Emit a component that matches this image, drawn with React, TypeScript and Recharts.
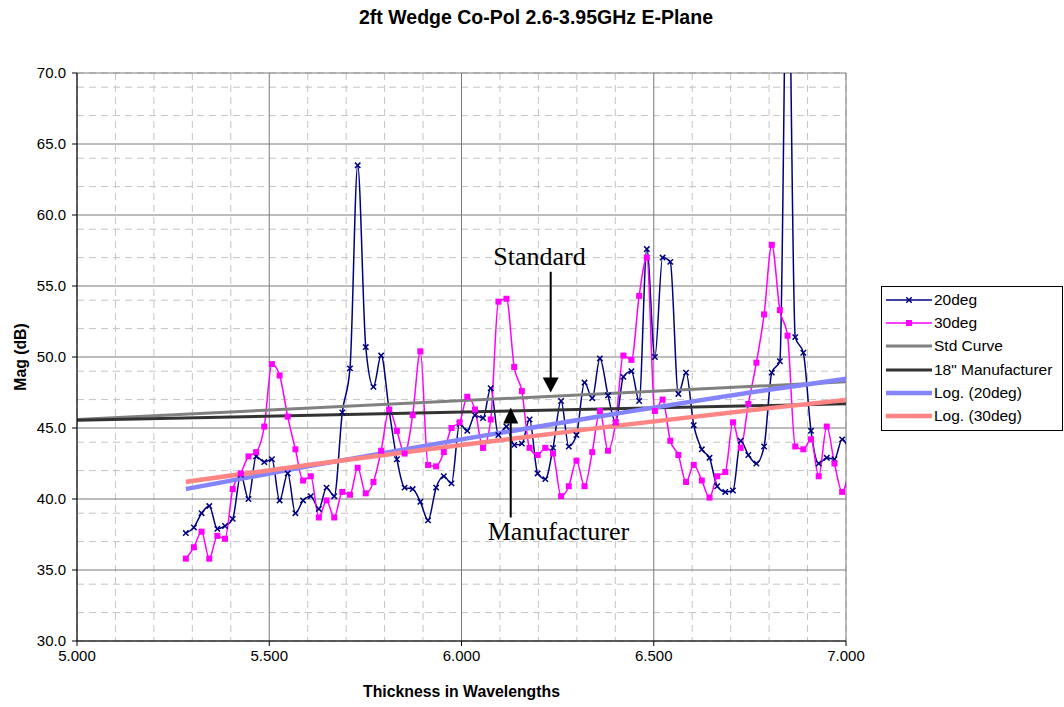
import type { JSX } from "react";
import {
  CartesianGrid,
  ComposedChart,
  Legend,
  Line,
  ReferenceDot,
  ReferenceLine,
  XAxis,
  YAxis,
} from "recharts";

// thickness in wavelengths for each measured frequency (2.60 .. 3.45 GHz)
const thickness = [
  5.283, 5.304, 5.324, 5.344, 5.365, 5.385, 5.405, 5.426, 5.446, 5.466,
  5.487, 5.507, 5.527, 5.548, 5.568, 5.588, 5.608, 5.629, 5.649, 5.669,
  5.69, 5.71, 5.73, 5.751, 5.771, 5.791, 5.812, 5.832, 5.852, 5.873,
  5.893, 5.913, 5.934, 5.954, 5.974, 5.995, 6.015, 6.035, 6.056, 6.076,
  6.096, 6.117, 6.137, 6.157, 6.177, 6.198, 6.218, 6.238, 6.259, 6.279,
  6.299, 6.32, 6.34, 6.36, 6.381, 6.401, 6.421, 6.442, 6.462, 6.482,
  6.503, 6.523, 6.543, 6.564, 6.584, 6.604, 6.625, 6.645, 6.665, 6.686,
  6.706, 6.726, 6.746, 6.767, 6.787, 6.807, 6.828, 6.848, 6.868, 6.889,
  6.909, 6.929, 6.95, 6.97, 6.99, 7.011,
];

const deg20 = [
  37.6, 38.0, 39.0, 39.5, 37.9, 38.1, 38.6, 41.7, 40.0, 43.0,
  42.6, 42.8, 39.9, 41.8, 39.0, 39.9, 40.2, 39.3, 40.8, 40.2,
  46.1, 49.2, 63.5, 50.7, 47.9, 50.1, 46.2, 42.8, 40.8, 40.7,
  39.8, 38.5, 40.8, 41.6, 41.1, 45.3, 44.8, 45.9, 45.7, 47.8,
  44.5, 45.1, 43.8, 43.9, 45.6, 41.8, 41.4, 43.6, 46.9, 43.7,
  44.5, 48.2, 47.1, 49.9, 47.3, 45.4, 48.6, 49.0, 46.9, 57.6,
  50.0, 57.0, 56.7, 47.4, 48.9, 45.2, 43.5, 42.9, 40.9, 40.5,
  40.6, 44.1, 43.1, 42.5, 43.7, 48.9, 49.7, 82.0, 51.4, 50.3,
  44.8, 42.5, 42.9, 42.8, 44.2, 43.2,
];

const deg30 = [
  35.8, 36.6, 37.7, 35.8, 37.4, 37.2, 40.7, 41.8, 43.0, 43.3,
  45.1, 49.5, 48.7, 45.8, 43.5, 41.3, 41.6, 38.7, 39.9, 38.7,
  40.5, 40.3, 42.2, 40.4, 41.2, 43.4, 46.3, 44.8, 43.2, 45.9,
  50.4, 42.4, 42.3, 43.3, 45.0, 45.4, 47.2, 46.3, 43.6, 45.6,
  53.9, 54.1, 49.3, 47.6, 43.6, 43.1, 43.6, 43.2, 40.2, 40.9,
  42.7, 40.9, 43.3, 46.2, 43.4, 45.4, 50.1, 49.8, 54.3, 57.0,
  46.2, 47.0, 44.1, 43.1, 41.2, 42.4, 41.3, 40.1, 41.6, 41.9,
  45.4, 43.6, 46.7, 49.6, 53.0, 57.9, 53.3, 51.5, 43.7, 43.5,
  44.2, 41.6, 45.1, 42.5, 40.5, 42.5,
];

const stdX = [5.0, 7.0];
const stdY = [45.6, 48.25];
const manufX = [5.0, 7.0];
const manufY = [45.55, 46.7];

const trendX = [5.283, 5.6, 6.0, 6.4, 6.8, 7.011];
const log20Y = [40.7, 42.3, 44.2, 46.0, 47.7, 48.5];
const log30Y = [41.2, 42.4, 43.8, 45.15, 46.4, 47.0];

const xTicks = [5.0, 5.5, 6.0, 6.5, 7.0];
const yTicks = [30, 35, 40, 45, 50, 55, 60, 65, 70];
const xMinor = [
  5.1, 5.2, 5.3, 5.4, 5.6, 5.7, 5.8, 5.9, 6.1, 6.2, 6.3, 6.4, 6.6, 6.7, 6.8, 6.9,
];
const yMinor = [
  31, 32, 33, 34, 36, 37, 38, 39, 41, 42, 43, 44, 46, 47, 48, 49, 51, 52, 53, 54,
  56, 57, 58, 59, 61, 62, 63, 64, 66, 67, 68, 69,
];

const seriesOrder = ["20deg", "30deg", "Std Curve", '18" Manufacturer', "Log. (20deg)", "Log. (30deg)"];

const rows = thickness.map((x, i) => ({ x, a20: deg20[i], a30: deg30[i] }));
const pairs = (xs: number[], ys: number[]) => xs.map((x, i) => ({ x, y: ys[i] }));

const SANS = '"Liberation Sans", Arial, sans-serif';
const SERIF = '"Liberation Serif", "Times New Roman", serif';

const NAVY = "#000080";
const MAGENTA = "#ff00ff";

function XMark(props: any): JSX.Element | null {
  const { cx, cy } = props;
  if (cx == null || cy == null) return null;
  const s = 2.7;
  return (
    <path
      d={`M${cx - s},${cy - s}L${cx + s},${cy + s}M${cx - s},${cy + s}L${cx + s},${cy - s}`}
      stroke={NAVY}
      strokeWidth={1.5}
      fill="none"
    />
  );
}

function SquareMark(props: any): JSX.Element | null {
  const { cx, cy } = props;
  if (cx == null || cy == null) return null;
  return <rect x={cx - 3} y={cy - 3} width={6} height={6} fill={MAGENTA} />;
}

const legendLook: Record<string, { stroke: string; width: number; mark?: "x" | "sq" }> = {
  "20deg": { stroke: NAVY, width: 1.5, mark: "x" },
  "30deg": { stroke: MAGENTA, width: 1.5, mark: "sq" },
  "Std Curve": { stroke: "#808080", width: 3 },
  '18" Manufacturer': { stroke: "#333333", width: 3 },
  "Log. (20deg)": { stroke: "#8484ff", width: 4.5 },
  "Log. (30deg)": { stroke: "#ff8484", width: 4.5 },
};

function LegendBox(props: any): JSX.Element {
  const payload: any[] = [...(props.payload ?? [])].sort(
    (a, b) => seriesOrder.indexOf(a.value) - seriesOrder.indexOf(b.value),
  );
  return (
    <div
      style={{
        border: "1px solid #000",
        background: "#fff",
        padding: "1px 0 2px 0",
        fontFamily: SANS,
        fontSize: 15.5,
        color: "#000",
      }}
    >
      {payload.map((e) => {
        const look = legendLook[e.value] ?? { stroke: e.color, width: 2 };
        return (
          <div key={e.value} style={{ display: "flex", alignItems: "center", height: 23.3 }}>
            <svg width={52} height={14} style={{ flex: "none" }}>
              <line x1={4} x2={50} y1={7} y2={7} stroke={look.stroke} strokeWidth={look.width} />
              {look.mark === "x" && (
                <path d="M24.3,4.3L29.7,9.7M24.3,9.7L29.7,4.3" stroke={NAVY} strokeWidth={1.5} />
              )}
              {look.mark === "sq" && <rect x={24} y={4} width={6} height={6} fill={MAGENTA} />}
            </svg>
            <span style={{ whiteSpace: "nowrap" }}>{e.value}</span>
          </div>
        );
      })}
    </div>
  );
}

export default function App(): JSX.Element {
  return (
    <div style={{ position: "absolute", left: 0, top: 0, width: 1064, height: 707, background: "#fff" }}>
      <div
        style={{
          position: "absolute",
          left: 4,
          top: 6,
          width: 1064,
          textAlign: "center",
          fontFamily: SANS,
          fontWeight: "bold",
          fontSize: 19.5,
          lineHeight: "22px",
        }}
      >
        2ft Wedge Co-Pol 2.6-3.95GHz E-Plane
      </div>
      <ComposedChart
        width={1064}
        height={707}
        data={rows}
        margin={{ top: 73, right: 218, bottom: 10, left: 7 }}
        style={{ fontFamily: SANS }}
      >
        <XAxis xAxisId="minor" type="number" dataKey="x" domain={[5, 7]} ticks={xMinor} hide allowDataOverflow />
        <YAxis yAxisId="minor" type="number" domain={[30, 70]} ticks={yMinor} hide allowDataOverflow />
        <CartesianGrid xAxisId="minor" yAxisId="minor" stroke="#c4c4c4" strokeDasharray="7 5" />
        <CartesianGrid stroke="#7a7a7a" strokeWidth={1} />
        <XAxis
          type="number"
          dataKey="x"
          domain={[5, 7]}
          ticks={xTicks}
          allowDataOverflow
          height={56}
          tickSize={5}
          tickMargin={4}
          tickFormatter={(v: number) => v.toFixed(3)}
          tick={{ fontSize: 15, fill: "#000" }}
          axisLine={{ stroke: "#000" }}
          tickLine={{ stroke: "#000" }}
          label={{
            value: "Thickness in Wavelengths",
            position: "insideBottom",
            offset: 0,
            style: { fontWeight: "bold", fontSize: 15.8, fill: "#000" },
          }}
        />
        <YAxis
          type="number"
          domain={[30, 70]}
          ticks={yTicks}
          allowDataOverflow
          width={70}
          tickSize={5}
          tickMargin={6}
          tickFormatter={(v: number) => v.toFixed(1)}
          tick={{ fontSize: 15, fill: "#000" }}
          axisLine={{ stroke: "#000" }}
          tickLine={{ stroke: "#000" }}
          label={{
            value: "Mag (dB)",
            angle: -90,
            position: "insideLeft",
            offset: 13,
            style: { fontWeight: "bold", fontSize: 15.8, fill: "#000", textAnchor: "middle" },
          }}
        />
        <Line
          name="20deg"
          dataKey="a20"
          type="monotone"
          stroke={NAVY}
          strokeWidth={1.5}
          dot={<XMark />}
          activeDot={false}
          isAnimationActive={false}
        />
        <Line
          name="30deg"
          dataKey="a30"
          type="monotone"
          stroke={MAGENTA}
          strokeWidth={1.5}
          dot={<SquareMark />}
          activeDot={false}
          isAnimationActive={false}
        />
        <Line
          name="Std Curve"
          data={pairs(stdX, stdY)}
          dataKey="y"
          type="linear"
          stroke="#808080"
          strokeWidth={3}
          dot={false}
          activeDot={false}
          isAnimationActive={false}
        />
        <Line
          name={'18" Manufacturer'}
          data={pairs(manufX, manufY)}
          dataKey="y"
          type="linear"
          stroke="#333333"
          strokeWidth={3}
          dot={false}
          activeDot={false}
          isAnimationActive={false}
        />
        <Line
          name="Log. (20deg)"
          data={pairs(trendX, log20Y)}
          dataKey="y"
          type="monotone"
          stroke="#8484ff"
          strokeWidth={4.5}
          dot={false}
          activeDot={false}
          isAnimationActive={false}
        />
        <Line
          name="Log. (30deg)"
          data={pairs(trendX, log30Y)}
          dataKey="y"
          type="monotone"
          stroke="#ff8484"
          strokeWidth={4.5}
          dot={false}
          activeDot={false}
          isAnimationActive={false}
        />
        <ReferenceLine
          segment={[
            { x: 6.232, y: 56.0 },
            { x: 6.232, y: 48.4 },
          ]}
          stroke="#000"
          strokeWidth={2}
        />
        <ReferenceDot
          x={6.232}
          y={47.5}
          r={0}
          shape={(p: any) => (
            <polygon points={`${p.cx},${p.cy} ${p.cx - 8},${p.cy - 15} ${p.cx + 8},${p.cy - 15}`} fill="#000" />
          )}
        />
        <ReferenceDot
          x={6.203}
          y={56.5}
          r={0}
          shape={(p: any) => (
            <text x={p.cx} y={p.cy} textAnchor="middle" fontFamily={SERIF} fontSize={26} fill="#000">
              Standard
            </text>
          )}
        />
        <ReferenceLine
          segment={[
            { x: 6.128, y: 38.7 },
            { x: 6.128, y: 45.4 },
          ]}
          stroke="#000"
          strokeWidth={2}
        />
        <ReferenceDot
          x={6.128}
          y={46.45}
          r={0}
          shape={(p: any) => (
            <polygon points={`${p.cx},${p.cy} ${p.cx - 7.5},${p.cy + 16} ${p.cx + 7.5},${p.cy + 16}`} fill="#000" />
          )}
        />
        <ReferenceDot
          x={6.252}
          y={37.1}
          r={0}
          shape={(p: any) => (
            <text x={p.cx} y={p.cy} textAnchor="middle" fontFamily={SERIF} fontSize={26} fill="#000">
              Manufacturer
            </text>
          )}
        />
        <Legend
          layout="vertical"
          align="center"
          verticalAlign="middle"
          content={<LegendBox />}
          wrapperStyle={{ left: 881, top: 286, width: 182 }}
        />
      </ComposedChart>
    </div>
  );
}
